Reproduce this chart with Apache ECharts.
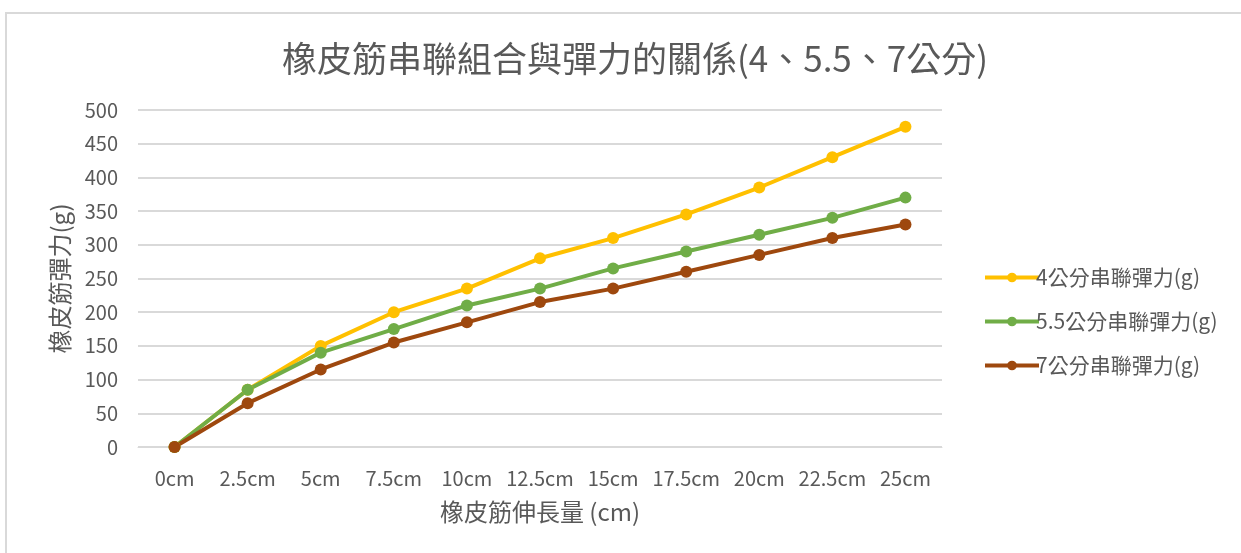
<!DOCTYPE html>
<html>
<head>
<meta charset="utf-8">
<script src="https://cdn.jsdelivr.net/npm/echarts@6/dist/echarts.min.js"></script>
<style>
html,body{margin:0;padding:0;background:#fff;}
#frame{position:absolute;left:5px;top:12px;width:1236px;height:541px;border-top:2px solid #d9d9d9;border-left:2px solid #d9d9d9;box-sizing:border-box;}
#main{position:absolute;left:0;top:0;width:1241px;height:553px;}
</style>
</head>
<body>
<div id="frame"></div>
<div id="main"></div>
<script>
// 橡皮筋伸長量
var categories = ['0cm','2.5cm','5cm','7.5cm','10cm','12.5cm','15cm','17.5cm','20cm','22.5cm','25cm'];
// 彈力 (g)
var force_4 = [0, 85, 150, 200, 235, 280, 310, 345, 385, 430, 475];
var force_55 = [0, 85, 140, 175, 210, 235, 265, 290, 315, 340, 370];
var force_7 = [0, 65, 115, 155, 185, 215, 235, 260, 285, 310, 330];
var names = ['4公分串聯彈力(g)', '5.5公分串聯彈力(g)', '7公分串聯彈力(g)'];
var colors = ['#FFC000', '#70AD47', '#9E480E'];

var font = '"Noto Sans CJK TC", "Noto Sans", sans-serif';

function make_series(name, data, color){
	return {
		name: name,
		type: 'line',
		data: data,
		symbol: 'circle',
		symbolSize: 12,
		lineStyle: { width: 4, color: color },
		itemStyle: { color: color },
		emphasis: { disabled: true },
		z: 3
	};
}

var myChart = echarts.init(document.getElementById('main'));
var option = {
	animation: false,
	title: {
		text: '橡皮筋串聯組合與彈力的關係(4、5.5、7公分)',
		left: 630,
		top: 36,
		textAlign: 'center',
		textStyle: { color: '#595959', fontWeight: 'normal', fontSize: 35, fontFamily: font }
	},
	legend: {
		orient: 'vertical',
		left: 978,
		top: 262,
		itemWidth: 54,
		itemHeight: 12,
		itemGap: 23,
		data: names,
		lineStyle: { width: 4 },
		textStyle: { color: '#595959', fontSize: 21, fontFamily: font, padding: [0, 0, 0, -8] }
	},
	grid: { left: 138, right: 299, top: 110, bottom: 106 },
	xAxis: {
		type: 'category',
		data: categories,
		boundaryGap: true,
		name: '橡皮筋伸長量 (cm)',
		nameLocation: 'middle',
		nameGap: 53,
		nameTextStyle: { color: '#595959', fontSize: 24, fontFamily: font },
		axisLine: { show: true, lineStyle: { color: '#d9d9d9', width: 1 } },
		axisTick: { show: false },
		axisLabel: { color: '#595959', fontSize: 20, fontFamily: font, margin: 21, interval: 0 }
	},
	yAxis: {
		type: 'value',
		min: 0,
		max: 500,
		interval: 50,
		name: '橡皮筋彈力(g)',
		nameLocation: 'middle',
		nameGap: 66,
		nameTextStyle: { color: '#595959', fontSize: 24, fontFamily: font },
		axisLine: { show: false },
		axisTick: { show: false },
		axisLabel: { color: '#595959', fontSize: 20, fontFamily: font, margin: 20 },
		splitLine: { lineStyle: { color: '#d9d9d9', width: 2 } }
	},
	series: [
		make_series(names[0], force_4, colors[0]),
		make_series(names[1], force_55, colors[1]),
		make_series(names[2], force_7, colors[2])
	]
};
myChart.setOption(option);
</script>
</body>
</html>
